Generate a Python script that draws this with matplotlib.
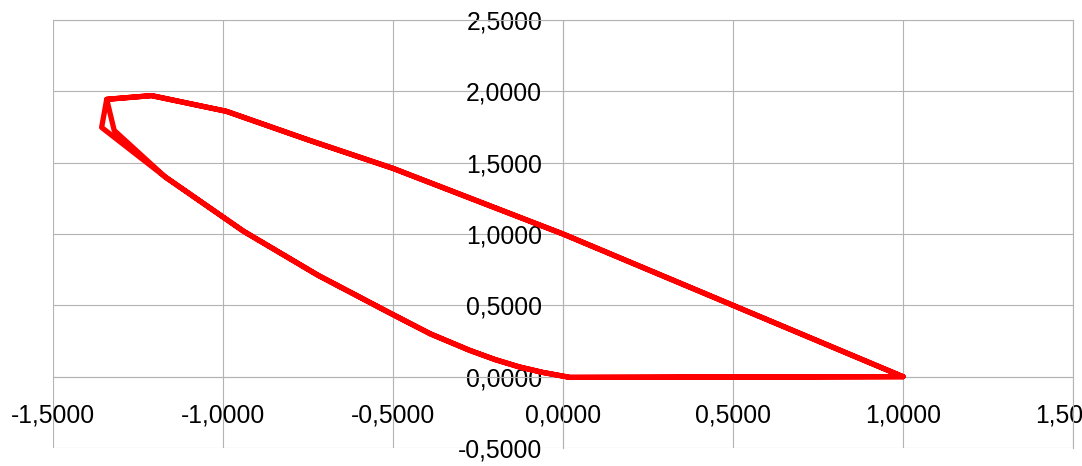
import matplotlib
matplotlib.use("Agg")
import matplotlib.pyplot as plt
from matplotlib.ticker import FuncFormatter, MultipleLocator

plt.rcParams['font.family'] = ['Liberation Sans', 'DejaVu Sans']

# two passes round the loop
x_vals = [1.00, 0.50, 0.00, -0.50, -0.75, -0.99, -1.21, -1.342, -1.32, -1.17,
          -0.94, -0.72, -0.50, -0.39, -0.275, -0.20, -0.128, -0.06, 0.02, 1.00,
          0.50, 0.00, -0.50, -0.75, -0.99, -1.21, -1.342, -1.357, -1.17,
          -0.94, -0.72, -0.50, -0.39, -0.275, -0.20, -0.128, -0.06, 0.02, 1.00]
y_vals = [0.00, 0.50, 1.00, 1.46, 1.66, 1.86, 1.97, 1.944, 1.726, 1.40,
          1.02, 0.71, 0.435, 0.30, 0.185, 0.12, 0.068, 0.03, -0.005, 0.00,
          0.50, 1.00, 1.46, 1.66, 1.86, 1.97, 1.944, 1.747, 1.40,
          1.02, 0.71, 0.435, 0.30, 0.185, 0.12, 0.068, 0.03, -0.005, 0.00]

x_lim = (-1.5, 1.5)
y_lim = (-0.5, 2.5)


def comma_fmt(v, pos):
    if abs(v) < 1e-9:
        v = 0.0
    return f"{v:.4f}".replace('.', ',')


fig = plt.figure(figsize=(10.82, 4.66), dpi=100)
ax = fig.add_axes([53 / 1082, 18 / 466, 1020 / 1082, 428 / 466])

ax.plot(x_vals, y_vals, color='#ff0000', linewidth=3.8,
        solid_joinstyle='round', solid_capstyle='round', zorder=3)

ax.set_xlim(*x_lim)
ax.set_ylim(*y_lim)
ax.xaxis.set_major_locator(MultipleLocator(0.5))
ax.yaxis.set_major_locator(MultipleLocator(0.5))
ax.xaxis.set_major_formatter(FuncFormatter(comma_fmt))
ax.yaxis.set_major_formatter(FuncFormatter(comma_fmt))

ax.grid(True, color='#b3b3b3', linewidth=0.8, zorder=0)
ax.set_axisbelow(True)

ax.spines['left'].set_position(('data', 0))
ax.spines['bottom'].set_position(('data', 0))
for s in ax.spines.values():
    s.set_color('#b3b3b3')
    s.set_linewidth(0.8)

ax.tick_params(axis='y', length=0, pad=15, labelsize=17.8, colors='black')
ax.tick_params(axis='x', length=0, pad=19, labelsize=17.8, colors='black')
for lbl in ax.get_xticklabels() + ax.get_yticklabels():
    lbl.set_clip_on(False)

fig.savefig('out.png', dpi=100)
